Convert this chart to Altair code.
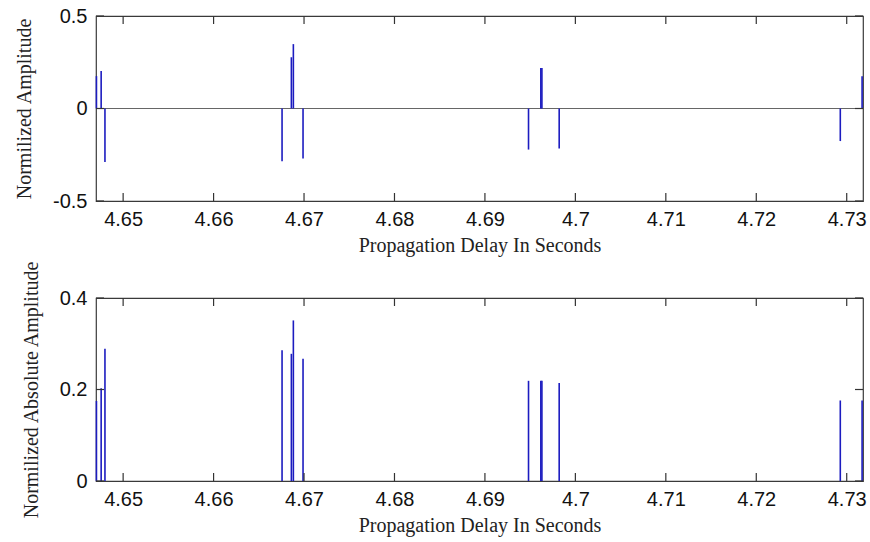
import altair as alt
import pandas as pd

# Spike delays (s) and amplitudes
times = [4.64705, 4.64757, 4.64799, 4.66757, 4.66860, 4.66882, 4.66989,
         4.69482, 4.69618, 4.69630, 4.69821, 4.72929, 4.73170]
amps = [0.175, 0.203, -0.289, -0.285, 0.277, 0.348, -0.270,
        -0.222, 0.219, 0.219, -0.216, -0.176, 0.175]
abs_amps = [0.175, 0.203, 0.289, 0.286, 0.278, 0.351, 0.267,
            0.219, 0.219, 0.219, 0.214, 0.176, 0.176]

x_ticks = [4.65, 4.66, 4.67, 4.68, 4.69, 4.7, 4.71, 4.72, 4.73]
x_domain = [4.6470, 4.7318]
top_y_ticks = [-0.5, 0, 0.5]
top_y_domain = [-0.5, 0.5]
bot_y_ticks = [0, 0.2, 0.4]
bot_y_domain = [0, 0.4]

W = 767
H_TOP = 185
H_BOT = 183
TICK = 8
SPIKE = "#1c1cc0"
FRAME = "#3a3a3a"
TICKCOL = "#333333"

xlabel = "Propagation Delay In Seconds"


def panel(values, ydomain, yticks, ytitle, height, baseline):
    df = pd.DataFrame({"t": times, "v": values})
    xt = pd.DataFrame({"t": x_ticks})
    yt = pd.DataFrame({"v": yticks})
    xs = alt.Scale(domain=x_domain, nice=False, zero=False)
    ys = alt.Scale(domain=ydomain, nice=False, zero=False)
    xax = alt.Axis(values=x_ticks, labelExpr="'' + datum.value",
                   title=xlabel, labelPadding=8, titlePadding=6)
    yax = alt.Axis(values=yticks, labelExpr="'' + datum.value",
                   title=ytitle, labelPadding=9, titlePadding=18)

    spikes = alt.Chart(df).mark_rule(color=SPIKE, strokeWidth=1.6).encode(
        x=alt.X("t:Q", scale=xs, axis=xax),
        y=alt.Y("v:Q", scale=ys, axis=yax),
        y2=alt.datum(0),
    )
    layers = [spikes]
    if baseline:
        base = alt.Chart(pd.DataFrame({"v": [0]})).mark_rule(
            color="#666666", strokeWidth=1.2).encode(
            y=alt.Y("v:Q", scale=ys, axis=yax))
        layers.insert(0, base)
    xtop = alt.Chart(xt).mark_rule(color=TICKCOL, strokeWidth=1.2).encode(
        x=alt.X("t:Q", scale=xs, axis=xax), y=alt.value(0), y2=alt.value(TICK))
    xbot = alt.Chart(xt).mark_rule(color=TICKCOL, strokeWidth=1.2).encode(
        x=alt.X("t:Q", scale=xs, axis=xax), y=alt.value(height), y2=alt.value(height - TICK))
    yleft = alt.Chart(yt).mark_rule(color=TICKCOL, strokeWidth=1.2).encode(
        y=alt.Y("v:Q", scale=ys, axis=yax), x=alt.value(0), x2=alt.value(TICK))
    yright = alt.Chart(yt).mark_rule(color=TICKCOL, strokeWidth=1.2).encode(
        y=alt.Y("v:Q", scale=ys, axis=yax), x=alt.value(W), x2=alt.value(W - TICK))
    layers += [xtop, xbot, yleft, yright]
    return alt.layer(*layers).properties(width=W, height=height)


top = panel(amps, top_y_domain, top_y_ticks, "Normilized Amplitude", H_TOP, True)
bottom = panel(abs_amps, bot_y_domain, bot_y_ticks, "Normilized Absolute Amplitude", H_BOT, False)

chart = alt.vconcat(top, bottom, spacing=97, bounds="flush").properties(
    padding={"left": 13, "top": 5, "right": 2, "bottom": 4}
).configure_view(
    stroke=FRAME, strokeWidth=1.2
).configure_axis(
    grid=False, domain=False, ticks=False,
    labelFont="Liberation Sans", labelFontSize=20, labelColor="#111111",
    titleFont="Liberation Serif", titleFontSize=20, titleFontWeight="normal",
    titleColor="#222222",
)

chart.save("out.html", embed_options={"renderer": "svg", "actions": False})
